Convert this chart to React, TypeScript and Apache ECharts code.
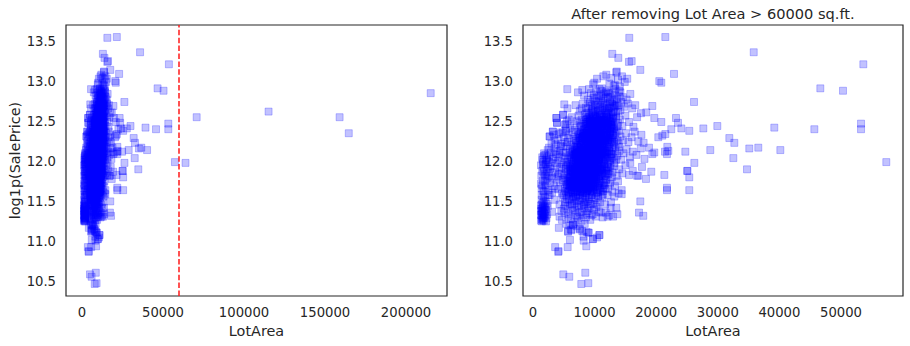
import React, { useEffect, useRef } from "react";
import * as echarts from "echarts";

// [LotArea, log1p(SalePrice)]
const upperCloud: number[][] = [
  [9750,12.96],[10400,13.03],[11200,12.91],[11900,13.08],[12400,12.97],[12700,13.04],[13100,12.94],[13600,13.12],[13800,13.02],[14100,12.93],[14450,13.06],[14900,12.99],[15300,13.03],[12000,12.88],[10800,12.9],[13400,12.9],
  [7300,12.86],[8300,12.82],[8900,12.77],[9400,12.85],[9800,12.79],[10300,12.87],[10700,12.81],[11100,12.76],[11500,12.84],[11800,12.79],[12200,12.86],[12600,12.8],[12900,12.75],[13300,12.83],[13700,12.78],[14000,12.88],[14600,12.8],[15200,12.77],[15800,12.84],[9100,12.9],[10000,12.75],[11400,12.78],
  [5600,12.66],[6900,12.7],[7600,12.63],[8100,12.72],[8600,12.67],[9000,12.61],[9300,12.74],[9700,12.65],[10100,12.7],[10500,12.62],[10900,12.68],[11300,12.73],[11700,12.64],[12000,12.69],[12300,12.61],[12800,12.71],[13100,12.66],[13500,12.62],[13900,12.7],[14200,12.64],[14800,12.68],[15400,12.72],[16100,12.66],[16600,12.7],[8700,12.6],[10200,12.64],[11900,12.6],[9500,12.69],[7900,12.66],[12500,12.74],
  [9600,12.63],[10100,12.58],[10500,12.71],[10900,12.6],[11400,12.66],[11800,12.7],[12200,12.63],[12600,12.67],[13000,12.61],[13400,12.69],[11100,12.82],[12400,12.84],[13300,12.95],[14200,12.86],
];

const midCloud: number[][] = [
  [3800,12.54],[3900,12.48],[4900,12.58],[5250,12.46],[5800,12.52],[6300,12.55],[6700,12.45],[7100,12.5],[7400,12.57],[7700,12.43],[7900,12.52],[8200,12.47],[8400,12.58],[8600,12.41],[8800,12.53],[9000,12.46],[9200,12.56],[9400,12.42],[9600,12.51],[9800,12.59],[10000,12.45],[10200,12.54],[10400,12.49],[10600,12.42],[10800,12.57],[11000,12.5],[11200,12.44],[11500,12.55],[11700,12.47],[11900,12.41],[12100,12.58],[12300,12.5],[12600,12.45],[12900,12.53],[13200,12.43],[13500,12.56],[13800,12.48],[14100,12.52],[14500,12.44],[15000,12.57],[15600,12.49],[16300,12.43],[16900,12.55],[8500,12.5],[9700,12.48],[10900,12.52],[11100,12.58],[9300,12.5],[7600,12.48],[12800,12.41],[6000,12.42],[5500,12.5],
  [2700,12.31],[3200,12.37],[3500,12.26],[4200,12.34],[4600,12.22],[5000,12.3],[5300,12.38],[5600,12.24],[5900,12.33],[6200,12.21],[6400,12.36],[6600,12.28],[6800,12.39],[7000,12.23],[7200,12.31],[7300,12.37],[7500,12.25],[7700,12.34],[7800,12.21],[8000,12.29],[8100,12.38],[8300,12.24],[8400,12.32],[8600,12.27],[8700,12.36],[8900,12.22],[9000,12.31],[9100,12.39],[9300,12.26],[9400,12.34],[9600,12.21],[9700,12.29],[9800,12.37],[10000,12.24],[10100,12.33],[10300,12.28],[10400,12.39],[10500,12.22],[10700,12.31],[10800,12.36],[11000,12.25],[11100,12.3],[11300,12.38],[11400,12.23],[11600,12.33],[11800,12.27],[12000,12.36],[12200,12.21],[12400,12.3],[12600,12.38],[12800,12.25],[13000,12.33],[13300,12.28],[13600,12.37],[13900,12.22],[14200,12.31],[14600,12.26],[15100,12.35],[15500,12.24],[16000,12.3],[16500,12.37],[17100,12.25],[17600,12.33],[9500,12.3],[8800,12.33],[10600,12.27],[7600,12.29],[11900,12.32],[9200,12.24],[10900,12.21],[8200,12.35],[6900,12.26],[12500,12.35],[5700,12.29],[4500,12.36],[3700,12.21],
  [1500,12.05],[1800,12.1],[2100,12.02],[2400,12.14],[2600,12.07],[2900,12.11],[3200,12.03],[3500,12.16],[3800,12.09],[4100,12.01],[4300,12.13],[4600,12.06],[4900,12.18],[5100,12.04],[5300,12.11],[5500,12.19],[5700,12.02],[5900,12.08],[6000,12.15],[6200,12.05],[6300,12.12],[6500,12.18],[6600,12.01],[6800,12.09],[6900,12.14],[7000,12.04],[7100,12.19],[7200,12.1],[7300,12.03],[7400,12.15],[7500,12.07],[7600,12.12],[7700,12.0],[7800,12.17],[7900,12.06],[8000,12.11],[8100,12.02],[8200,12.16],[8300,12.08],[8400,12.13],[8500,12.01],[8600,12.19],[8700,12.05],[8800,12.1],[8900,12.15],[9000,12.03],[9100,12.08],[9200,12.18],[9300,12.12],[9400,12.0],[9500,12.06],[9600,12.14],[9700,12.09],[9800,12.02],[9900,12.17],[10000,12.11],[10100,12.04],[10200,12.13],[10300,12.07],[10400,12.19],[10500,12.01],[10600,12.1],[10700,12.15],[10800,12.05],[11000,12.12],[11100,12.02],[11200,12.17],[11400,12.08],[11500,12.14],[11700,12.03],[11800,12.11],[12000,12.18],[12100,12.06],[12300,12.13],[12500,12.01],[12700,12.09],[12900,12.16],[13100,12.04],[13400,12.12],[13700,12.07],[14000,12.18],[14300,12.02],[14700,12.1],[15200,12.15],[15700,12.05],[16200,12.12],[16800,12.08],[17500,12.16],[18100,12.03],[7650,12.08],[8450,12.04],[9150,12.13],[9650,12.05],[10250,12.16],[8750,12.12],[7350,12.1],[6700,12.07],[10900,12.09],[11600,12.1],[2000,12.08],[1700,11.99],[2300,12.01],[9450,12.1],[8050,12.06],[6400,12.1],
];

const lowerCloud: number[][] = [
  [1300,11.95],[1500,11.88],[1700,11.92],[1900,11.84],[2100,11.97],[2300,11.9],[2600,11.82],[2900,11.94],[3200,11.86],[3600,11.98],[4000,11.81],[4300,11.91],[4600,11.85],[4900,11.96],[5100,11.83],[5300,11.9],[5500,11.99],[5700,11.87],[5900,11.8],[6000,11.93],[6200,11.86],[6300,11.97],[6500,11.82],[6600,11.91],[6800,11.88],[6900,11.95],[7000,11.81],[7100,11.9],[7200,11.98],[7300,11.85],[7400,11.93],[7500,11.83],[7600,11.96],[7700,11.88],[7800,11.8],[7900,11.92],[8000,11.86],[8100,11.99],[8200,11.84],[8300,11.94],[8400,11.89],[8500,11.81],[8600,11.97],[8700,11.87],[8800,11.92],[8900,11.83],[9000,11.95],[9100,11.88],[9200,11.8],[9300,11.91],[9400,11.98],[9500,11.85],[9600,11.93],[9700,11.82],[9800,11.89],[9900,11.96],[10000,11.84],[10100,11.91],[10200,11.8],[10400,11.94],[10500,11.87],[10700,11.99],[10800,11.83],[11000,11.9],[11200,11.86],[11300,11.95],[11500,11.81],[11700,11.92],[11900,11.88],[12100,11.97],[12300,11.84],[12600,11.91],[12900,11.86],[13200,11.94],[13600,11.82],[14000,11.9],[14500,11.85],[15000,11.95],[15600,11.83],[16200,11.88],[16900,11.82],[7150,11.86],[7850,11.9],[8550,11.92],[9250,11.87],[9950,11.9],[8050,11.83],[6850,11.84],[10600,11.9],[7450,11.88],[8250,11.96],[9050,11.81],[9650,11.96],[6100,11.89],[5400,11.94],[11100,11.93],[2000,11.82],[1600,11.96],[2500,11.93],
  [1300,11.72],[1400,11.66],[1600,11.76],[1800,11.62],[2000,11.7],[2200,11.78],[2500,11.64],[2800,11.73],[3100,11.61],[3400,11.69],[3800,11.77],[4100,11.65],[4400,11.74],[4700,11.6],[4900,11.68],[5100,11.79],[5300,11.63],[5500,11.71],[5700,11.77],[5800,11.62],[6000,11.69],[6100,11.75],[6300,11.64],[6400,11.72],[6600,11.78],[6700,11.61],[6900,11.67],[7000,11.74],[7200,11.65],[7300,11.79],[7400,11.7],[7600,11.62],[7700,11.76],[7800,11.68],[8000,11.73],[8100,11.6],[8300,11.66],[8400,11.77],[8600,11.71],[8700,11.63],[8900,11.75],[9000,11.67],[9200,11.79],[9300,11.62],[9500,11.7],[9600,11.76],[9800,11.64],[9900,11.72],[10100,11.68],[10300,11.78],[10500,11.61],[10700,11.73],[10900,11.66],[11100,11.75],[11400,11.63],[11600,11.7],[11900,11.77],[12200,11.65],[12500,11.72],[12900,11.62],[13300,11.69],[13800,11.75],[14400,11.64],[7550,11.7],[8250,11.71],[8950,11.68],[9650,11.66],[6550,11.7],[7850,11.64],[5950,11.73],[10200,11.74],[3600,11.66],
  [1300,11.45],[1400,11.52],[1500,11.41],[1600,11.48],[1700,11.56],[1900,11.43],[2100,11.5],[2400,11.44],[2700,11.58],[3500,11.52],[4300,11.46],[4800,11.55],[5000,11.41],[5200,11.49],[5400,11.57],[5600,11.44],[5800,11.52],[6000,11.47],[6200,11.59],[6400,11.42],[6600,11.53],[6800,11.48],[7000,11.56],[7200,11.43],[7400,11.51],[7600,11.58],[7800,11.45],[8000,11.54],[8200,11.47],[8400,11.41],[8600,11.56],[8800,11.5],[9000,11.44],[9200,11.53],[9500,11.58],[9700,11.47],[10000,11.52],[10300,11.43],[10600,11.57],[10900,11.49],[11300,11.55],[11700,11.46],[12100,11.58],[12600,11.42],[13200,11.56],[13900,11.6],[14400,11.59],[7100,11.5],[8500,11.49],[9400,11.47],[6500,11.56],[1800,11.4],[1450,11.38],
  [1300,11.26],[1400,11.33],[1500,11.37],[1600,11.29],[1700,11.35],[1900,11.3],[2100,11.25],[2300,11.34],[3100,11.37],[4300,11.31],[4700,11.27],[5100,11.36],[5400,11.22],[5700,11.32],[6100,11.28],[6400,11.38],[6700,11.24],[7000,11.33],[7300,11.29],[7600,11.36],[7900,11.26],[8200,11.33],[8600,11.3],[8900,11.38],[9300,11.27],[9700,11.34],[10200,11.31],[10700,11.37],[11300,11.3],[11800,11.36],[12400,11.33],[13000,11.31],[13700,11.34],[5900,11.2],[8400,11.22],
  [4200,11.17],[5700,11.12],[6200,11.15],[6500,11.21],[7100,11.19],[7600,11.16],[8000,11.13],[8200,11.06],[8700,11.12],[9000,11.11],[9700,11.03],[10400,11.05],[10800,11.08],[6000,11.02],
];

const denseCore: number[][] = [
  [9200,12.72],[9900,12.83],[10600,12.74],[11000,12.88],[11600,12.71],[12100,12.8],[12500,12.73],[12900,12.85],[13200,12.77],[13600,12.72],[14000,12.81],[14300,12.74],[10300,12.78],[11800,12.86],[13000,12.7],
  [8600,12.55],[8900,12.66],[9200,12.52],[9500,12.61],[9800,12.56],[10000,12.68],[10300,12.53],[10600,12.63],[10800,12.5],[11000,12.58],[11300,12.67],[11500,12.52],[11800,12.61],[12000,12.55],[12300,12.66],[12500,12.51],[12700,12.6],[13000,12.57],[13200,12.68],[13500,12.54],[13800,12.62],[9700,12.58],[10900,12.64],[12200,12.59],[11200,12.51],
  [7600,12.35],[7900,12.44],[8100,12.31],[8300,12.4],[8500,12.47],[8700,12.33],[8900,12.42],[9100,12.36],[9300,12.46],[9500,12.32],[9600,12.41],[9800,12.48],[10000,12.34],[10200,12.43],[10400,12.38],[10500,12.47],[10700,12.32],[10900,12.41],[11100,12.36],[11300,12.45],[11500,12.31],[11700,12.4],[11900,12.48],[12100,12.34],[12300,12.43],[12500,12.37],[12700,12.46],[12900,12.32],[13100,12.4],[13400,12.35],[13700,12.44],[13900,12.38],[8800,12.49],[10600,12.39],[9900,12.37],
  [6800,12.15],[7000,12.26],[7200,12.18],[7400,12.29],[7500,12.12],[7700,12.21],[7900,12.27],[8000,12.14],[8200,12.23],[8400,12.17],[8500,12.28],[8700,12.11],[8900,12.2],[9000,12.26],[9200,12.13],[9300,12.22],[9500,12.17],[9600,12.28],[9800,12.12],[9900,12.24],[10100,12.19],[10200,12.29],[10400,12.14],[10600,12.22],[10700,12.17],[10900,12.27],[11100,12.13],[11200,12.21],[11400,12.26],[11600,12.16],[11800,12.23],[12000,12.12],[12200,12.27],[12400,12.18],[12600,12.24],[12800,12.14],[13100,12.22],[13400,12.17],[13700,12.26],[14000,12.13],
  [5700,11.95],[5900,12.06],[6100,11.92],[6300,12.03],[6500,11.97],[6600,12.08],[6800,11.91],[7000,12.01],[7100,12.07],[7300,11.94],[7500,12.04],[7600,11.99],[7800,12.09],[7900,11.93],[8100,12.05],[8200,11.97],[8400,12.02],[8500,12.08],[8700,11.92],[8800,12.0],[9000,12.06],[9100,11.96],[9300,12.04],[9400,11.91],[9600,12.01],[9700,12.07],[9900,11.94],[10000,12.03],[10200,11.98],[10300,12.09],[10500,11.93],[10700,12.02],[10800,11.97],[11000,12.06],[11200,11.92],[11400,12.01],[11600,11.96],[11800,12.05],[12000,11.93],[12300,12.0],[12600,11.95],[12900,12.05],[13200,11.98],[13500,12.02],[8950,12.03],
  [5300,11.75],[5500,11.84],[5700,11.72],[5900,11.8],[6100,11.88],[6200,11.74],[6400,11.83],[6600,11.71],[6700,11.79],[6900,11.87],[7100,11.73],[7200,11.82],[7400,11.77],[7600,11.86],[7700,11.72],[7900,11.81],[8100,11.76],[8200,11.89],[8400,11.73],[8500,11.83],[8700,11.78],[8900,11.86],[9000,11.71],[9200,11.8],[9400,11.75],[9500,11.88],[9700,11.74],[9900,11.83],[10000,11.78],[10200,11.86],[10400,11.72],[10600,11.81],[10800,11.76],[11000,11.85],[11300,11.73],[11600,11.82],[11900,11.77],[12200,11.84],[12500,11.74],[12800,11.8],
  [5000,11.58],[5200,11.66],[5500,11.53],[5700,11.62],[5900,11.57],[6100,11.68],[6300,11.52],[6500,11.61],[6700,11.67],[6900,11.55],[7100,11.63],[7300,11.58],[7500,11.69],[7700,11.54],[7900,11.62],[8100,11.57],[8300,11.66],[8500,11.52],[8700,11.6],[8900,11.65],[9100,11.55],[9300,11.63],[9500,11.58],[9800,11.68],[10000,11.54],[10300,11.61],[10600,11.56],[10900,11.64],[11300,11.59],[11700,11.66],
  [4600,11.38],[5200,11.45],[5800,11.34],[6300,11.46],[6800,11.39],[7200,11.31],[7500,11.44],[7900,11.37],[8300,11.46],[8700,11.35],[9100,11.42],[9500,11.33],[9900,11.4],[10400,11.46],[11000,11.36],
];

const heartCore: number[][] = [
  [8500,12.44],[8650,12.52],[8800,12.41],[8950,12.49],[9050,12.55],[9150,12.43],[9250,12.5],[9400,12.46],[9550,12.54],[9650,12.41],[9750,12.47],[9850,12.53],[9950,12.44],[10050,12.5],[10150,12.56],[10250,12.42],[10350,12.48],[10450,12.53],[10550,12.45],[10650,12.51],[10750,12.4],[10850,12.47],[10950,12.55],[11050,12.43],[11150,12.49],[11250,12.54],[11350,12.41],[11450,12.48],[11550,12.52],[11650,12.44],[11750,12.5],[11850,12.56],[11950,12.45],[12050,12.41],[12150,12.51],[12250,12.47],[12350,12.54],[12450,12.42],[12550,12.49],[12650,12.53],[12750,12.44],[12850,12.5],[12950,12.46],[13050,12.55],[13150,12.42],[9300,12.51],[10400,12.44],[11600,12.46],[12600,12.48],[9900,12.49],
  [7500,12.33],[7650,12.25],[7800,12.37],[7900,12.29],[8050,12.22],[8150,12.34],[8250,12.27],[8350,12.39],[8450,12.21],[8550,12.3],[8650,12.36],[8750,12.25],[8850,12.32],[8950,12.38],[9050,12.23],[9150,12.29],[9250,12.35],[9350,12.21],[9450,12.27],[9550,12.36],[9650,12.24],[9750,12.31],[9850,12.39],[9950,12.26],[10050,12.22],[10150,12.35],[10250,12.28],[10350,12.24],[10450,12.33],[10550,12.38],[10650,12.23],[10750,12.29],[10850,12.34],[10950,12.25],[11050,12.31],[11150,12.39],[11250,12.22],[11350,12.28],[11450,12.35],[11550,12.27],[11650,12.21],[11750,12.32],[11850,12.38],[11950,12.24],[12050,12.3],[12150,12.36],[12250,12.26],[12350,12.33],[12450,12.22],[12550,12.29],[12700,12.37],[12850,12.27],[13000,12.32],[13150,12.24],[8100,12.31],[9000,12.28],[9600,12.32],[10600,12.3],[11600,12.25],[10100,12.29],
  [6500,12.12],[6650,12.04],[6750,12.17],[6850,12.08],[6950,12.01],[7050,12.13],[7150,12.05],[7250,12.18],[7350,12.02],[7450,12.09],[7550,12.16],[7650,12.03],[7750,12.11],[7850,12.19],[7950,12.06],[8050,12.13],[8150,12.01],[8250,12.08],[8350,12.17],[8450,12.1],[8550,12.04],[8650,12.14],[8750,12.02],[8850,12.07],[8950,12.16],[9050,12.11],[9150,12.01],[9250,12.09],[9350,12.18],[9450,12.04],[9550,12.12],[9650,12.07],[9750,12.15],[9850,12.03],[9950,12.1],[10050,12.18],[10150,12.06],[10250,12.01],[10350,12.12],[10450,12.08],[10550,12.16],[10650,12.03],[10750,12.1],[10850,12.19],[10950,12.05],[11050,12.14],[11150,12.08],[11250,12.02],[11350,12.11],[11450,12.17],[11550,12.06],[11700,12.13],[11850,12.03],[12000,12.1],[12150,12.16],[12300,12.07],[12450,12.12],[12600,12.04],[12750,12.09],[7100,12.1],[8000,12.08],[8800,12.12],[9600,12.0],[10400,12.05],[11200,12.14],
  [5900,11.9],[6050,11.84],[6150,11.96],[6250,11.81],[6350,11.88],[6450,11.94],[6550,11.86],[6650,11.99],[6750,11.83],[6850,11.9],[6950,11.97],[7050,11.85],[7150,11.92],[7250,11.81],[7350,11.89],[7450,11.96],[7550,11.84],[7650,11.91],[7750,11.98],[7850,11.82],[7950,11.88],[8050,11.95],[8150,11.86],[8250,11.8],[8350,11.92],[8450,11.98],[8550,11.85],[8650,11.9],[8750,11.96],[8850,11.82],[8950,11.88],[9050,11.94],[9150,11.84],[9250,11.91],[9350,11.99],[9450,11.83],[9550,11.89],[9650,11.95],[9750,11.86],[9850,11.8],[9950,11.93],[10050,11.87],[10150,11.98],[10250,11.82],[10350,11.9],[10450,11.96],[10550,11.85],[10650,11.92],[10750,11.81],[10850,11.88],[10950,11.95],[11100,11.84],[11250,11.91],[11400,11.86],[11550,11.97],[11700,11.83],[11850,11.9],[12000,11.85],[12150,11.93],[12300,11.88],[6600,11.92],[7400,11.87],[8200,11.9],[9000,11.85],[9800,11.92],
  [5500,11.66],[5650,11.75],[5750,11.62],[5850,11.7],[5950,11.78],[6050,11.64],[6150,11.72],[6250,11.67],[6350,11.76],[6450,11.61],[6550,11.73],[6650,11.68],[6750,11.79],[6850,11.63],[6950,11.71],[7050,11.66],[7150,11.77],[7250,11.62],[7350,11.74],[7450,11.69],[7550,11.78],[7650,11.64],[7750,11.72],[7850,11.67],[7950,11.76],[8050,11.61],[8150,11.7],[8250,11.65],[8350,11.75],[8450,11.62],[8550,11.73],[8650,11.68],[8750,11.79],[8850,11.64],[8950,11.71],[9050,11.66],[9150,11.76],[9250,11.63],[9350,11.72],[9450,11.68],[9550,11.77],[9650,11.62],[9750,11.7],[9850,11.65],[9950,11.74],[10100,11.69],[10250,11.78],[10400,11.64],[10550,11.71],[10700,11.67],[10850,11.75],[11000,11.62],[11200,11.7],[11400,11.66],[11600,11.73],
];

const smallLots: number[][] = [
  [1300,11.38],[1350,11.82],[1400,11.58],[1450,11.25],[1500,11.7],[1500,11.31],[1550,12.02],[1600,11.42],[1650,11.63],[1700,11.29],[1700,11.86],[1750,11.5],[1800,12.07],[1850,11.34],[1900,11.75],[1950,11.55],[2000,11.96],[2050,11.4],[2100,11.68],[2200,11.88],[2250,11.47],[2300,12.04],[2400,11.8],[2500,11.58],[2600,11.99],
  [1300,11.33],[1350,11.41],[1400,11.28],[1450,11.46],[1500,11.35],[1550,11.27],[1600,11.38],[1650,11.44],[1700,11.31],[1750,11.26],[1800,11.36],[1900,11.45],[2000,11.32],[2100,11.39],[2200,11.29],
  [2600,12.17],[2800,11.91],[3000,12.22],[3100,11.79],[3300,12.05],[3400,12.33],[3600,11.87],[3700,12.12],[3900,11.97],[4000,12.27],[4200,11.84],[4300,12.08],[4500,12.19],[4600,11.93],[4800,12.36],[4900,11.77],[5000,12.11],[5200,12.24],[5300,11.99],[5400,12.4],
];

const sparsePoints: number[][] = [
  [3600,10.93],[4100,10.87],[4150,10.88],[5630,10.93],[8230,11.01],[8650,10.94],[4920,10.59],[5890,10.56],[8490,10.61],[8980,10.48],[7840,10.47],
  [6490,11.21],[6220,11.14],[7580,11.15],[9040,11.11],[5680,11.13],[9740,11.03],[10760,11.08],[12120,11.31],[12660,11.49],[13520,11.42],
  [5570,12.9],[5080,12.71],[3250,12.37],[2710,12.31],[3780,12.54],[3900,12.48],[5240,12.46],[4870,12.58],[8000,12.89],[9950,12.98],
  [15630,13.54],[21480,13.55],[12870,13.34],[13850,13.29],[15580,13.24],[16020,13.25],[17420,13.14],[11410,13.06],[13520,13.11],
  [22890,13.09],[20500,13.0],[20830,12.98],[26140,12.74],[19370,12.69],[18390,12.61],[17530,12.6],[19690,12.54],[20830,12.49],
  [23210,12.54],[23540,12.48],[24080,12.41],[22450,12.4],[25370,12.38],[20340,12.3],[20990,12.32],[21480,12.34],[17960,12.23],[18830,12.17],
  [21800,12.18],[21970,12.13],[21430,12.12],[21750,12.09],[19690,12.11],[19370,12.09],[24730,12.12],[26190,11.98],[15790,11.98],[17690,11.93],
  [17090,11.82],[19200,11.87],[18340,11.78],[21320,11.83],[25050,11.88],[25050,11.88],[25370,11.8],[25370,11.64],[21750,11.67],[21750,11.64],
  [17420,11.5],[17210,11.36],[17900,11.32],
  [28780,12.14],[27650,12.41],[29920,12.44],[31870,12.29],[32680,12.23],[32520,12.04],[34740,11.9],[35110,12.16],[36570,12.17],[35830,13.36],
  [39170,12.42],[40150,12.14],[45670,12.4],[46640,12.91],[50320,12.88],[53250,12.47],[53250,12.4],[53620,13.21],[57350,11.99],
];

const largeLots: number[][] = [
  [63887,11.98],[70761,12.55],[115149,12.62],[159000,12.55],[164660,12.35],[215245,12.85],
];

const cutoff = 60000;
const xTicksAll = [0, 50000, 100000, 150000, 200000];
const xTicksTrimmed = [0, 10000, 20000, 30000, 40000, 50000];
const yTicks = [10.5, 11.0, 11.5, 12.0, 12.5, 13.0, 13.5];
const rightTitle = "After removing Lot Area > 60000 sq.ft.";

const allHouses = [...upperCloud, ...midCloud, ...lowerCloud, ...denseCore, ...heartCore, ...smallLots, ...sparsePoints, ...largeLots];
const trimmedHouses = allHouses.filter((d) => d[0] <= cutoff);

const FONT = "DejaVu Sans";
const TEXT = "#262626";

export default function App() {
  const ref = useRef<HTMLDivElement>(null);
  useEffect(() => {
    if (!ref.current) return;
    const chart = echarts.init(ref.current, undefined, { renderer: "svg" });
    const symbolStyle = {
      color: "rgba(0,0,255,0.3)",
      borderColor: "rgba(0,0,255,0.3)",
      borderWidth: 1,
    };
    const xAxisBase = (min: number, max: number, ticks: number[], gi: number) => ({
      type: "value",
      gridIndex: gi,
      min,
      max,
      name: "LotArea",
      nameLocation: "middle",
      nameGap: 26,
      nameTextStyle: { fontFamily: FONT, fontSize: 14.4, color: TEXT },
      axisLine: { show: false },
      axisTick: { show: false },
      splitLine: { show: false },
      axisLabel: {
        customValues: ticks,
        margin: 10,
        fontFamily: FONT,
        fontSize: 13.2,
        color: TEXT,
        formatter: (v: number) => String(v),
      },
    });
    const yAxisBase = (gi: number, name: string) => ({
      type: "value",
      gridIndex: gi,
      min: 10.32,
      max: 13.7,
      name,
      nameLocation: "middle",
      nameGap: 44,
      nameTextStyle: { fontFamily: FONT, fontSize: 14.4, color: TEXT },
      axisLine: { show: false },
      axisTick: { show: false },
      splitLine: { show: false },
      axisLabel: {
        customValues: yTicks,
        margin: 10,
        fontFamily: FONT,
        fontSize: 13.2,
        color: TEXT,
        formatter: (v: number) => v.toFixed(1),
      },
    });
    chart.setOption({
      animation: false,
      backgroundColor: "#ffffff",
      grid: [
        { left: 66, top: 25, width: 381, height: 271, show: true, borderColor: "#262626", borderWidth: 1.2, backgroundColor: "transparent" },
        { left: 523, top: 25, width: 380, height: 271, show: true, borderColor: "#262626", borderWidth: 1.2, backgroundColor: "transparent" },
      ],
      xAxis: [
        xAxisBase(-9900, 225300, xTicksAll, 0),
        xAxisBase(-1620, 60060, xTicksTrimmed, 1),
      ],
      yAxis: [yAxisBase(0, "log1p(SalePrice)"), yAxisBase(1, "")],
      graphic: [
        {
          type: "text",
          x: 713,
          y: 13,
          style: {
            text: rightTitle,
            fontFamily: FONT,
            fontSize: 14.6,
            fill: TEXT,
            align: "center",
            verticalAlign: "middle",
          },
        },
      ],
      series: [
        {
          type: "scatter",
          xAxisIndex: 0,
          yAxisIndex: 0,
          symbol: "rect",
          symbolSize: 7,
          itemStyle: symbolStyle,
          data: allHouses,
          silent: true,
          markLine: {
            silent: true,
            symbol: "none",
            label: { show: false },
            lineStyle: { color: "#ff1a1a", width: 1.5, type: [5.5, 2.4] },
            data: [{ xAxis: cutoff }],
          },
        },
        {
          type: "scatter",
          xAxisIndex: 1,
          yAxisIndex: 1,
          symbol: "rect",
          symbolSize: 7,
          itemStyle: symbolStyle,
          data: trimmedHouses,
          silent: true,
        },
      ],
    });
    return () => chart.dispose();
  }, []);
  return (
    <div
      ref={ref}
      style={{ position: "fixed", left: 0, top: 0, width: 910, height: 346, background: "#fff" }}
    />
  );
}
